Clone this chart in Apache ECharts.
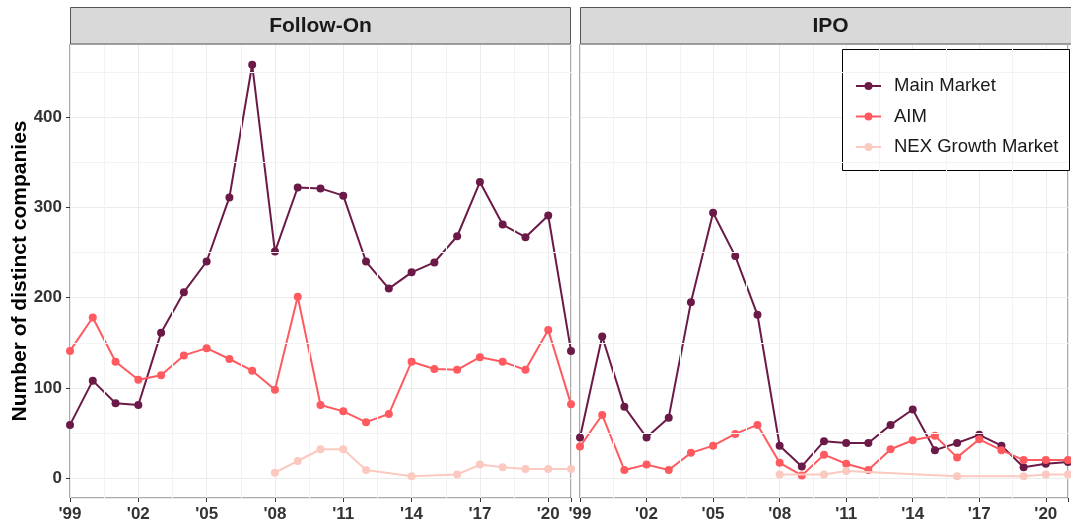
<!DOCTYPE html>
<html><head><meta charset="utf-8">
<script src="https://cdn.jsdelivr.net/npm/echarts@6/dist/echarts.min.js"></script>
<style>html,body{margin:0;padding:0;background:#fff}#c{width:1071px;height:525px}</style>
</head><body><div id="c"></div><script>
// ---- data ----
const years = [1999,2000,2001,2002,2003,2004,2005,2006,2007,2008,2009,2010,2011,2012,2013,2014,2015,2016,2017,2018,2019,2020,2021];
const panels = ['Follow-On', 'IPO'];
const markets = ['Main Market', 'AIM', 'NEX Growth Market'];
const followOnMain = [59,108,83,81,161,206,240,311,458,251,322,321,313,240,210,228,239,268,328,281,267,291,141];
const followOnAIM  = [141,178,129,109,114,136,144,132,119,98,201,81,74,62,71,129,121,120,134,129,120,164,82];
const followOnNEX  = [null,null,null,null,null,null,null,null,null,6,19,32,32,9,null,2,null,4,15,12,10,10,10];
const ipoMain = [45,157,79,45,67,195,294,246,181,36,13,41,39,39,59,76,31,39,48,36,12,16,18];
const ipoAIM  = [35,70,9,15,9,28,36,49,59,17,3,26,16,9,32,42,47,23,43,31,20,20,20];
const ipoNEX  = [null,null,null,null,null,null,null,null,null,4,null,4,8,null,null,null,null,2,null,null,2,4,4];
const xTickYears = [1999,2002,2005,2008,2011,2014,2017,2020];
const yTicks = [0,100,200,300,400];
const yMinorLines = [50,150,250,350,450];
const xMinorLines = [2000.5,2003.5,2006.5,2009.5,2012.5,2015.5,2018.5];

// ---- styling ----
const colors = {'Main Market':'#6B1A48','AIM':'#FF5A5F','NEX Growth Market':'#FBC9BF'};
const FONT = '"Liberation Sans", Arial, sans-serif';
const panelData = [[followOnMain, followOnAIM, followOnNEX],[ipoMain, ipoAIM, ipoNEX]];
const grids = [
  {left:70, top:44, width:501, height:454},
  {left:580, top:44, width:500, height:454}
];

const series = [];
panels.forEach((p, gi) => {
  series.push({
    type:'line', xAxisIndex:gi, yAxisIndex:gi, data:[], z:1, silent:true,
    markLine:{silent:true, symbol:['none','none'], animation:false, label:{show:false},
      lineStyle:{color:'#f3f3f3', width:1, type:'solid'},
      data: yMinorLines.map(v=>({yAxis:v})).concat(xMinorLines.map(v=>({xAxis:v})))}
  });
  markets.forEach((m, si) => {
    series.push({
      name:m, type:'line', xAxisIndex:gi, yAxisIndex:gi, z:3+si,
      data: years.map((y,i)=>[y, panelData[gi][si][i]]),
      connectNulls:true, symbol:'circle', symbolSize:8,
      lineStyle:{width:2, color:colors[m]}, itemStyle:{color:colors[m]},
      animation:false
    });
  });
});

const option = {
  animation:false,
  grid: grids.map(g => Object.assign({show:true, borderColor:'#555', borderWidth:1, backgroundColor:'#fff'}, g)),
  xAxis: grids.map((g, gi) => ({
    type:'value', gridIndex:gi, min:1999, max:2021, interval:3,
    axisLine:{show:false, onZero:false},
    axisTick:{show:true, length:4, lineStyle:{color:'#333'}},
    axisLabel:{fontSize:17, fontWeight:'bold', color:'#333', fontFamily:FONT, margin:8,
      formatter: v => xTickYears.includes(v) ? "'" + String(v).slice(2) : ''},
    splitLine:{show:true, lineStyle:{color:'#ebebeb', width:1}}
  })),
  yAxis: grids.map((g, gi) => ({
    type:'value', gridIndex:gi, min:-22, max:481,
    axisLine:{show:false, onZero:false},
    axisTick:{show:gi===0, length:4, lineStyle:{color:'#333'}},
    axisLabel:{show:gi===0, showMinLabel:false, showMaxLabel:false, fontSize:17, fontWeight:'bold', color:'#333', fontFamily:FONT, margin:8,
      formatter: v => yTicks.includes(v) ? String(v) : ''},
    splitLine:{show:true, lineStyle:{color:'#ebebeb', width:1}}
  })),
  legend:{
    data: markets, orient:'vertical', left:855, top:76, padding:0,
    itemWidth:25, itemHeight:10, itemGap:10.5, z:10,
    textStyle:{fontSize:18.5, color:'#1a1a1a', fontFamily:FONT, lineHeight:20, padding:[0,0,0,8]}
  },
  graphic:[
    {type:'rect', z:100, shape:{x:70.5, y:7.5, width:500, height:36.5}, style:{fill:'#d9d9d9', stroke:'#555', lineWidth:1}},
    {type:'rect', z:100, shape:{x:580.5, y:7.5, width:500, height:36.5}, style:{fill:'#d9d9d9', stroke:'#555', lineWidth:1}},
    {type:'text', z:101, x:320.5, y:26, style:{text:panels[0], fill:'#1a1a1a', font:'bold 21px ' + FONT, textAlign:'center', textVerticalAlign:'middle'}},
    {type:'text', z:101, x:830.5, y:26, style:{text:panels[1], fill:'#1a1a1a', font:'bold 21px ' + FONT, textAlign:'center', textVerticalAlign:'middle'}},
    {type:'text', z:101, x:20, y:271, rotation:Math.PI/2, style:{text:'Number of distinct companies', font:'bold 21px ' + FONT, fill:'#000', textAlign:'center', textVerticalAlign:'middle'}},
    {type:'rect', z:5, shape:{x:842.5, y:49.5, width:227, height:121}, style:{fill:'#fff', stroke:'#000', lineWidth:1}}
  ],
  series: series
};
const chart = echarts.init(document.getElementById('c'), null, {renderer:'canvas'});
chart.setOption(option);
</script></body></html>
